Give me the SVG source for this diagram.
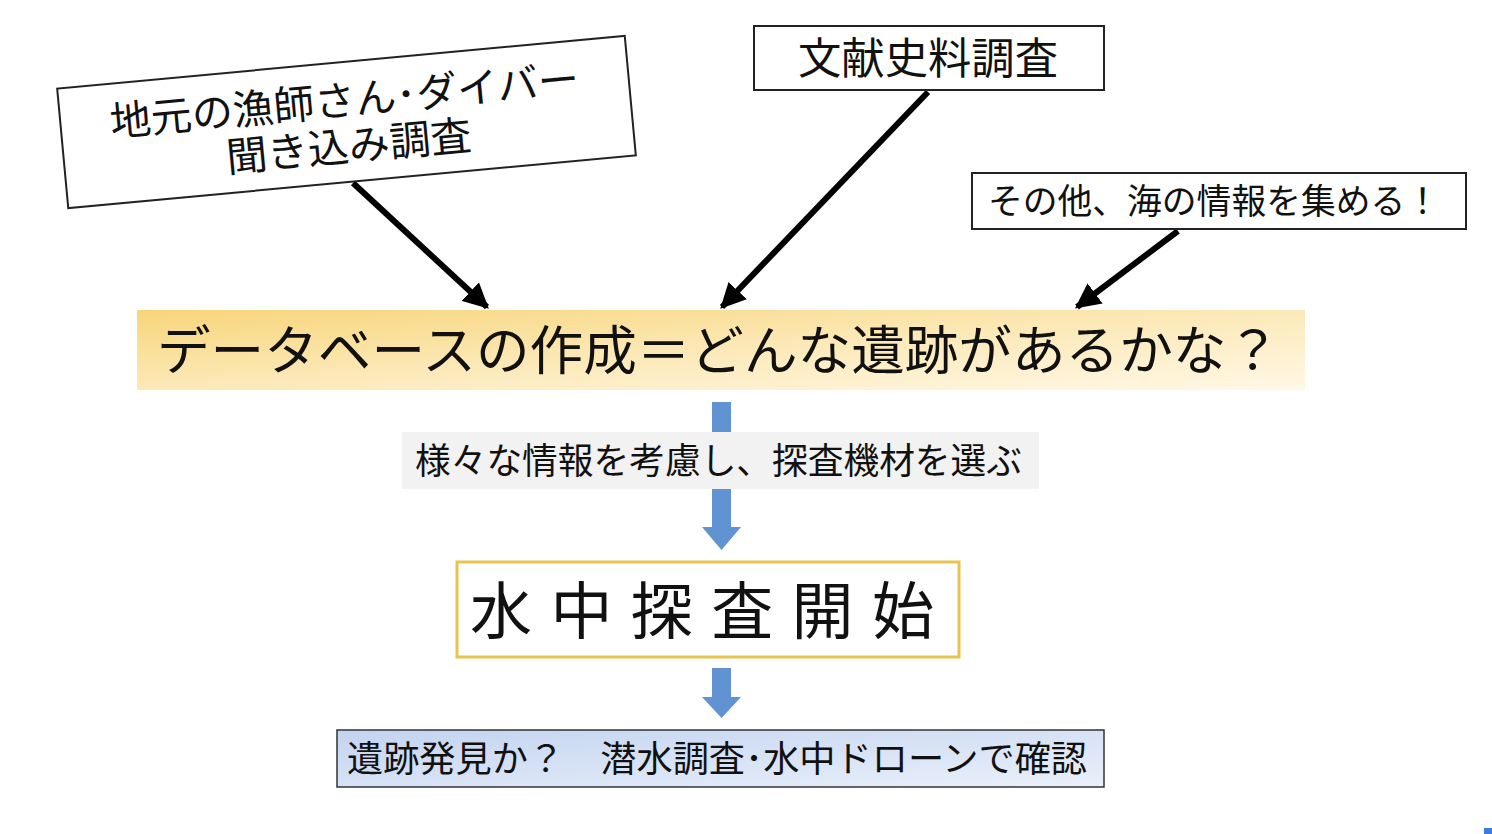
<svg xmlns="http://www.w3.org/2000/svg" width="1492" height="834" viewBox="0 0 1492 834">
  <style>
    .jp { font-family: "Noto Sans CJK JP", "Noto Sans CJK SC", sans-serif; fill: #111; }
    .box { fill: #fff; stroke: #222; stroke-width: 2; }
    .conn { stroke: #000; stroke-width: 6; fill: none; marker-end: url(#ah); }
    .blue { fill: #6193d2; }
  </style>
  <defs>
    <marker id="ah" viewBox="0 0 10 10" refX="9" refY="5" markerWidth="4.2" markerHeight="4.2" orient="auto" markerUnits="strokeWidth">
      <path d="M0,0 L10,5 L0,10 z" fill="#000"/>
    </marker>
    <linearGradient id="gy" x1="0" y1="0" x2="1" y2="1">
      <stop offset="0" stop-color="#f8d57a"/>
      <stop offset="0.5" stop-color="#fce9b8"/>
      <stop offset="1" stop-color="#fff8e6"/>
    </linearGradient>
    <linearGradient id="gb" x1="0" y1="0" x2="1" y2="1">
      <stop offset="0" stop-color="#c3d4f0"/>
      <stop offset="1" stop-color="#eaf0fa"/>
    </linearGradient>
  </defs>
  <rect width="1492" height="834" fill="#fff"/>

  <g id="connectors">
    <line class="conn" x1="353" y1="183" x2="487" y2="307"/>
    <line class="conn" x1="928" y1="92" x2="722" y2="307"/>
    <line class="conn" x1="1178" y1="231" x2="1077" y2="307"/>
    <rect class="blue" x="712" y="402" width="19" height="31"/>
    <path class="blue" d="M712,489 H731 V527 H741 L721.5,550 L702,527 H712 Z"/>
    <path class="blue" d="M712,668 H731 V697 H741 L721.5,718 L702,697 H712 Z"/>
  </g>

  <g id="node-interview" transform="translate(346.5,122) rotate(-5.3)">
    <rect class="box" x="-285" y="-60" width="570" height="120" stroke-width="1.5"/>
    <text class="jp" x="0" y="-7" font-size="41" text-anchor="middle">地元の漁師さん･ダイバー</text>
    <text class="jp" x="0" y="39" font-size="41" text-anchor="middle">聞き込み調査</text>
  </g>

  <g id="node-literature">
    <rect class="box" x="754" y="26" width="350" height="64"/>
    <text class="jp" x="798" y="74" font-size="43" textLength="260" lengthAdjust="spacingAndGlyphs">文献史料調査</text>
  </g>

  <g id="node-other">
    <rect class="box" x="972" y="173" width="494" height="56"/>
    <text class="jp" x="988" y="214" font-size="35" textLength="452" lengthAdjust="spacingAndGlyphs">その他、海の情報を集める！</text>
  </g>

  <g id="node-database">
    <rect x="137" y="310" width="1168" height="80" fill="url(#gy)"/>
    <text class="jp" x="157" y="370" font-size="53" textLength="1123" lengthAdjust="spacingAndGlyphs">データベースの作成＝どんな遺跡があるかな？</text>
  </g>

  <g id="node-select">
    <rect x="402" y="432" width="637" height="57" fill="#f2f2f2"/>
    <text class="jp" x="415" y="474" font-size="36" textLength="607" lengthAdjust="spacingAndGlyphs">様々な情報を考慮し、探査機材を選ぶ</text>
  </g>

  <g id="node-start">
    <rect x="457" y="562" width="502" height="95" fill="#fff" stroke="#e8c44c" stroke-width="3"/>
    <text class="jp" x="470" y="634" font-size="62" textLength="464" lengthAdjust="spacing">水中探査開始</text>
  </g>

  <g id="node-confirm">
    <rect x="337" y="730" width="767" height="57" fill="url(#gb)" stroke="#333" stroke-width="1.5"/>
    <text class="jp" x="347" y="772" font-size="36" textLength="740" lengthAdjust="spacingAndGlyphs">遺跡発見か？　潜水調査･水中ドローンで確認</text>
  </g>

  <rect x="1484" y="828" width="8" height="6" fill="#3c7ddb"/>
</svg>
